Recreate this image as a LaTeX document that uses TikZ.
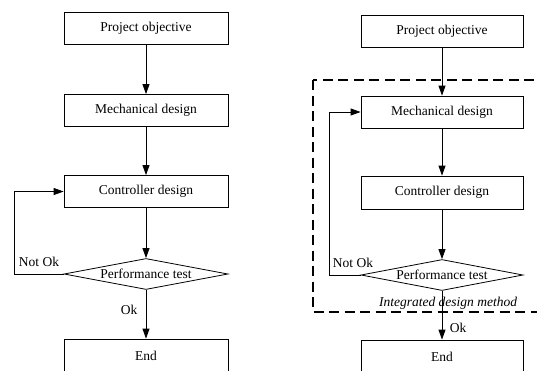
\documentclass[tikz,border=0pt]{standalone}
\usepackage{fontspec}
\setmainfont{Liberation Serif}
\usetikzlibrary{shapes.geometric,arrows.meta}
\begin{document}
\begin{tikzpicture}[x=1pt,y=-1pt,
  every node/.style={font=\fontsize{13.5}{15}\selectfont},
  box/.style={draw,line width=0.8pt,minimum height=32pt,inner sep=0pt},
  dia/.style={draw,line width=0.8pt,shape=diamond,aspect=5.3,inner sep=0pt,minimum height=31pt},
  conn/.style={line width=0.8pt,-{Triangle[length=10pt,width=7pt]}},
  lbl/.style={inner sep=0pt},
  frame/.style={line width=1.8pt,dash pattern=on 10pt off 5.5pt}]
\useasboundingbox (0,0) rectangle (537,370);
\clip (0,0) rectangle (537,370);
\fill[white] (0,0) rectangle (537,370);
% left flow
\node[box,minimum width=164pt] (lpo) at (146,28) {Project objective};
\node[box,minimum width=164pt] (lmd) at (146,110.5) {Mechanical design};
\node[box,minimum width=164pt] (lcd) at (146,191.5) {Controller design};
\node[dia,minimum width=164pt] (lpt) at (146,274) {Performance test};
\node[box,minimum width=164pt,minimum height=33pt] (len) at (146,355.5) {End};
\coordinate (lfa) at (14,274);
\coordinate (lfb) at (14,191.5);
\draw[conn] (lpo) -- (lmd);
\draw[conn] (lmd) -- (lcd);
\draw[conn] (lcd) -- (lpt);
\draw[conn] (lpt) -- (len);
\draw[conn] (lpt.west) -- (lfa) -- (lfb) -- (lcd.west);
\node[lbl] (lnok) at (39,262) {Not Ok};
\node[lbl] (lok) at (129,310) {Ok};
% right flow
\node[box,minimum width=162pt] (rpo) at (442,31) {Project objective};
\node[box,minimum width=162pt] (rmd) at (442,112) {Mechanical design};
\node[box,minimum width=162pt,minimum height=33pt] (rcd) at (442,192.5) {Controller design};
\node[dia,minimum width=162pt] (rpt) at (442,275) {Performance test};
\node[box,minimum width=162pt,minimum height=33pt] (ren) at (442,356.5) {End};
\coordinate (rfa) at (329,275);
\coordinate (rfb) at (329,112);
\node[lbl] (rnok) at (353,263) {Not Ok};
\node[lbl,font=\fontsize{13.5}{15}\selectfont\itshape] (rint) at (448,303) {Integrated design method};
\node[lbl] (rok) at (458,328) {Ok};
\draw[frame] (313,80) rectangle (548,312);
\draw[conn] (rpo) -- (rmd);
\draw[conn] (rmd) -- (rcd);
\draw[conn] (rcd) -- (rpt);
\draw[conn] (rpt) -- (ren);
\draw[conn] (rpt.west) -- (rfa) -- (rfb) -- (rmd.west);
\end{tikzpicture}
\end{document}
